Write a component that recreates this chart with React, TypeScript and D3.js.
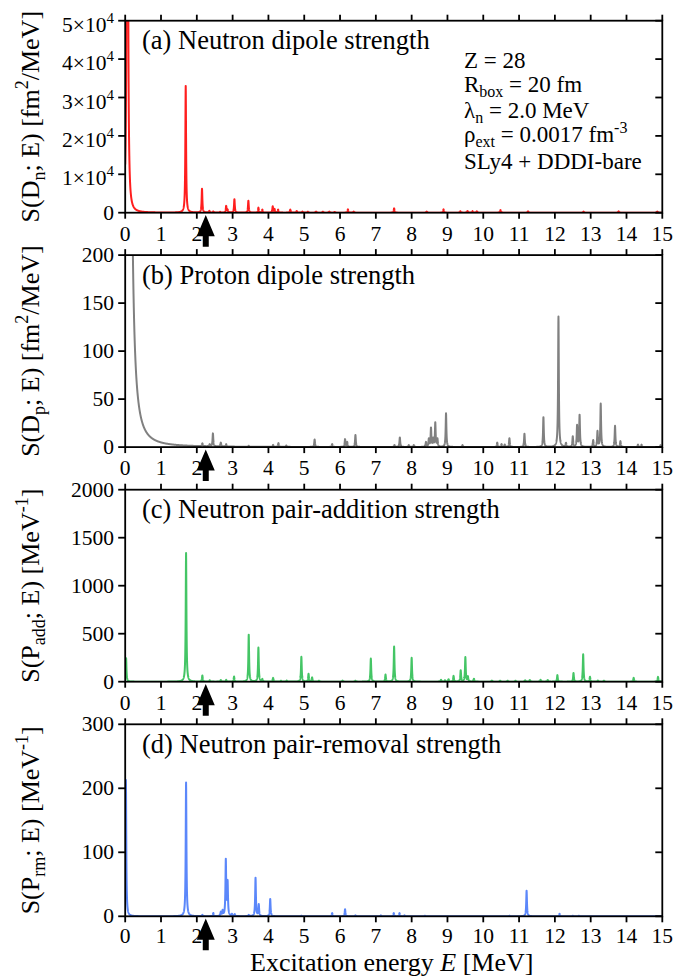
import React from 'react';
import * as d3 from 'd3';

// ---------- data (peak energies [MeV] and peak heights) ----------
const DN_E = [0.06, 1.69, 2.145, 2.35, 2.46, 2.65, 2.82, 2.86, 3.05, 3.44, 3.72, 3.83, 4.12, 4.17, 4.27, 4.61, 4.79, 4.95, 5.1, 5.33, 5.52, 5.7, 5.85, 6.22, 6.38, 7.51, 8.42, 8.89, 9.36, 9.56, 9.7, 9.82, 10.48, 11.25, 12.8, 13.78, 14.86];
const DN_H = [326000, 33000, 6200, 450, 300, 200, 1700, 700, 3500, 3100, 1300, 800, 1600, 900, 800, 800, 450, 300, 250, 300, 250, 300, 200, 870, 300, 1130, 300, 870, 400, 450, 400, 350, 700, 350, 300, 350, 300];

const DP_E = [0.07, 2.155, 2.36, 2.45, 2.67, 2.82, 3.45, 4.13, 4.28, 4.5, 5.29, 5.78, 6.14, 6.2, 6.43, 7.52, 7.67, 7.92, 8.06, 8.4, 8.48, 8.54, 8.6, 8.66, 8.72, 8.96, 9.42, 10.39, 10.51, 10.6, 10.73, 11.15, 11.68, 12.1, 12.31, 12.5, 12.62, 12.69, 13.07, 13.19, 13.28, 13.68, 13.83, 14.32, 14.42, 14.95];
const DP_H = [29400, 3, 2, 13.5, 4, 2.5, 1, 2, 4, 1.5, 7.7, 3, 8, 5, 12.5, 2, 10, 2, 2, 5, 8, 19.5, 8, 25, 8, 35, 2, 4.6, 3, 2.5, 9.2, 13.8, 31, 136, 4, 10.8, 22, 33, 7, 16, 45, 22, 6, 2.5, 2.5, 2];

const PADD_E = [0.025, 1.7, 2.155, 2.36, 2.67, 2.82, 3.04, 3.45, 3.72, 3.83, 4.13, 4.35, 4.51, 4.92, 5.12, 5.22, 5.41, 6.07, 6.43, 6.86, 7.27, 7.51, 8.0, 8.82, 8.93, 9.03, 9.17, 9.37, 9.5, 9.57, 9.74, 10.24, 10.47, 10.68, 10.9, 11.17, 11.3, 11.6, 11.8, 12.07, 12.52, 12.79, 12.98, 13.2, 13.37, 14.2, 14.88];
const PADD_H = [245, 1340, 64, 15, 18, 18, 53, 489, 355, 25, 39, 10, 12, 259, 82, 43, 10, 12, 10, 241, 74, 365, 248, 20, 15, 25, 60, 117, 255, 50, 30, 12, 10, 10, 10, 15, 18, 20, 18, 68, 90, 285, 50, 12, 10, 40, 50];

const PRM_E = [0.02, 1.7, 2.155, 2.46, 2.67, 2.72, 2.81, 2.86, 2.98, 3.06, 3.45, 3.64, 3.73, 4.05, 4.92, 5.78, 6.14, 6.43, 7.14, 7.5, 7.66, 7.8, 8.37, 10.73, 11.21, 12.13, 12.5, 12.67];
const PRM_H = [213, 209, 2, 5, 6, 8, 87, 52, 3, 3, 2, 60, 18, 27, 1, 5, 11, 1.5, 1.5, 5, 5, 1.5, 1, 1, 40, 4, 1, 1];

const X_TICKS = [0, 1, 2, 3, 4, 5, 6, 7, 8, 9, 10, 11, 12, 13, 14, 15];
const YA_TICKS = [0, 10000, 20000, 30000, 40000, 50000];
const YA_LABELS = ['0', '1', '2', '3', '4', '5'];
const YB_TICKS = [0, 50, 100, 150, 200];
const YC_TICKS = [0, 500, 1000, 1500, 2000];
const YD_TICKS = [0, 100, 200, 300];
const ARROW_E = 2.25;
const GAMMA = 0.012;

// ---------- layout ----------
const W = 675, H = 977;
const X0 = 125.2, X1 = 662.3;
const PANEL_H = 192;
const TOPS = [20.7, 255.1, 489.7, 724.3];
const FONT = "'Liberation Serif', 'Times New Roman', serif";
const TICK_FS = 21.5;

const xs = d3.scaleLinear().domain([0, 15]).range([X0, X1]);

function spectrum(E: number[], Hs: number[]) {
  const grid = d3.range(0, 15.0001, 0.0025).concat(E).filter(e => e >= 0 && e <= 15).sort((a, b) => a - b);
  const g2 = GAMMA * GAMMA;
  return grid.map(x => [x, d3.sum(E, (e, i) => Hs[i] * g2 / ((x - e) * (x - e) + g2))] as [number, number]);
}

type PanelDef = {
  E: number[]; Hs: number[]; color: string; yMax: number; ticks: number[];
};

const PANELS: PanelDef[] = [
  { E: DN_E, Hs: DN_H, color: '#ff1e1e', yMax: 50000, ticks: YA_TICKS },
  { E: DP_E, Hs: DP_H, color: '#808080', yMax: 200, ticks: YB_TICKS },
  { E: PADD_E, Hs: PADD_H, color: '#44c565', yMax: 2000, ticks: YC_TICKS },
  { E: PRM_E, Hs: PRM_H, color: '#5b87fa', yMax: 300, ticks: YD_TICKS },
];

const TITLES = ['(a) Neutron dipole strength', '(b) Proton dipole strength', '(c) Neutron pair-addition strength', '(d) Neutron pair-removal strength'];

function YLabel({ i, cy }: { i: number; cy: number }) {
  const t = `translate(38.5, ${cy}) rotate(-90)`;
  const big = 26, small = 18;
  if (i === 0 || i === 1) {
    return (
      <text transform={t} textAnchor="middle" fontSize={big}>
        S(D<tspan dy={6} fontSize={small}>{i === 0 ? 'n' : 'p'}</tspan>
        <tspan dy={-6}>; E) [fm</tspan>
        <tspan dy={-11} fontSize={small}>2</tspan>
        <tspan dy={11}>/MeV]</tspan>
      </text>
    );
  }
  return (
    <text transform={t} textAnchor="middle" fontSize={big}>
      S(P<tspan dy={6} fontSize={small}>{i === 2 ? 'add' : 'rm'}</tspan>
      <tspan dy={-6}>; E) [MeV</tspan>
      <tspan dy={-11} fontSize={small}>-1</tspan>
      <tspan dy={11}>]</tspan>
    </text>
  );
}

function Panel({ p, i }: { p: PanelDef; i: number }) {
  const top = TOPS[i];
  const bottom = top + PANEL_H;
  const ys = d3.scaleLinear().domain([0, p.yMax]).range([bottom, top]);
  const data = spectrum(p.E, p.Hs);
  const line = d3.line<[number, number]>()
    .x(d => xs(d[0]))
    .y(d => ys(Math.min(d[1], p.yMax * 1.1)));
  const clipId = `clip${i}`;
  const ax = xs(ARROW_E);
  const arrow = `M${ax},${bottom + 2.3} L${ax + 9},${bottom + 23.5} L${ax + 3},${bottom + 23.5} L${ax + 3},${bottom + 34} L${ax - 3},${bottom + 34} L${ax - 3},${bottom + 23.5} L${ax - 9},${bottom + 23.5} Z`;
  const tickY = i === 3 ? bottom + 26.5 : bottom + 28;
  return (
    <g>
      <defs>
        <clipPath id={clipId}>
          <rect x={X0} y={top} width={X1 - X0} height={PANEL_H} />
        </clipPath>
      </defs>
      <path d={line(data) || ''} fill="none" stroke={p.color} strokeWidth={2} strokeLinejoin="round" clipPath={`url(#${clipId})`} />
      <rect x={X0} y={top} width={X1 - X0} height={PANEL_H} fill="none" stroke="#000" strokeWidth={1.8} />
      {X_TICKS.map(t => (
        <g key={`xt${t}`}>
          <line x1={xs(t)} x2={xs(t)} y1={top} y2={top - 6} stroke="#000" strokeWidth={1.8} />
          <line x1={xs(t)} x2={xs(t)} y1={bottom} y2={bottom + 6} stroke="#000" strokeWidth={1.8} />
          <text x={xs(t)} y={tickY} textAnchor="middle" fontSize={TICK_FS}>{t}</text>
        </g>
      ))}
      {p.ticks.map((t, k) => (
        <g key={`yt${t}`}>
          <line x1={X0 - 7} x2={X0} y1={ys(t)} y2={ys(t)} stroke="#000" strokeWidth={1.8} />
          <line x1={X1 - 7} x2={X1} y1={ys(t)} y2={ys(t)} stroke="#000" strokeWidth={1.8} />
          {i === 0 && t !== 0 ? (
            <text x={114} y={ys(t) + 11} textAnchor="end" fontSize={TICK_FS}>
              {YA_LABELS[k]}×10<tspan dy={-9} fontSize={15}>4</tspan>
            </text>
          ) : (
            <text x={114} y={ys(t) + 7} textAnchor="end" fontSize={TICK_FS}>{t}</text>
          )}
        </g>
      ))}
      <text x={142} y={top + 28.5} fontSize={26.5}>{TITLES[i]}</text>
      <YLabel i={i} cy={top + PANEL_H / 2} />
      <path d={arrow} fill="#000" />
    </g>
  );
}

export default function App() {
  return (
    <svg width={W} height={H} style={{ position: 'absolute', left: 0, top: 0, background: '#fff' }} fontFamily={FONT}>
      <rect x={0} y={0} width={W} height={H} fill="#fff" />
      {PANELS.map((p, i) => <Panel key={i} p={p} i={i} />)}
      <g fontSize={23}>
        <text x={464} y={68}>Z = 28</text>
        <text x={464} y={92}>R<tspan dy={5} fontSize={16}>box</tspan><tspan dy={-5}> = 20 fm</tspan></text>
        <text x={464} y={118}>λ<tspan dy={5} fontSize={16}>n</tspan><tspan dy={-5}> = 2.0 MeV</tspan></text>
        <text x={464} y={142}>ρ<tspan dy={5} fontSize={16}>ext</tspan><tspan dy={-5}> = 0.0017 fm</tspan><tspan dy={-9} fontSize={16}>-3</tspan></text>
        <text x={464} y={169}>SLy4 + DDDI-bare</text>
      </g>
      <text x={(X0 + X1) / 2 - 2} y={971} textAnchor="middle" fontSize={26}>
        Excitation energy <tspan fontStyle="italic">E</tspan> [MeV]
      </text>
    </svg>
  );
}
